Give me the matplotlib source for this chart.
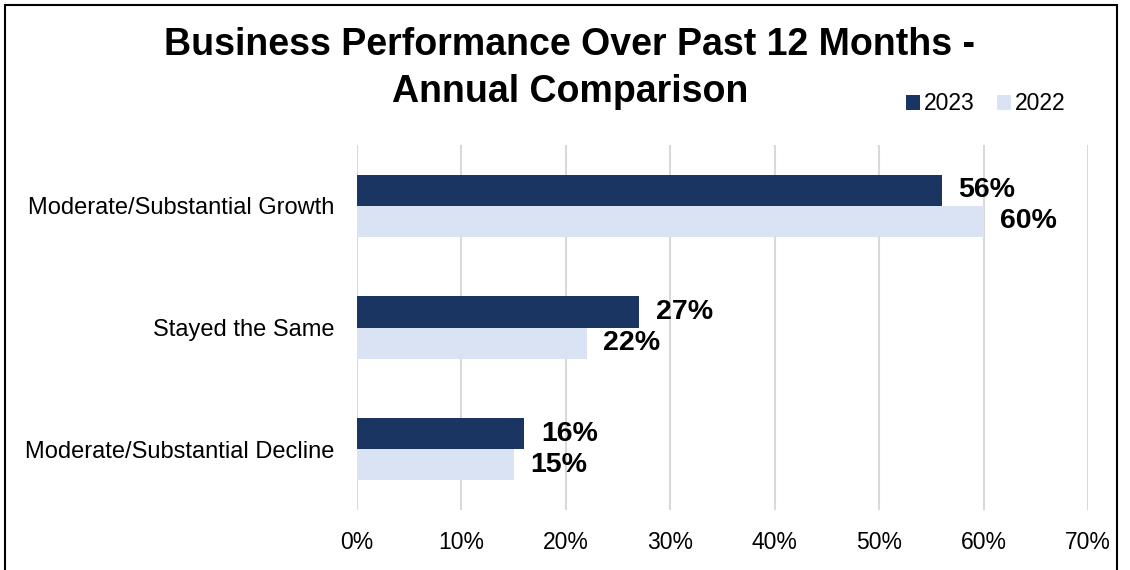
import matplotlib
matplotlib.use("Agg")
import matplotlib.pyplot as plt
from matplotlib.patches import Rectangle
import numpy as np

plt.rcParams['font.family'] = ['Liberation Sans', 'DejaVu Sans']

categories = ["Moderate/Substantial Growth", "Stayed the Same", "Moderate/Substantial Decline"]
values_2023 = [0.56, 0.27, 0.16]
values_2022 = [0.60, 0.22, 0.15]
series_names = ["2023", "2022"]
xticks = [0, 0.1, 0.2, 0.3, 0.4, 0.5, 0.6, 0.7]
title_lines = ["Business Performance Over Past 12 Months -", "Annual Comparison"]

c23 = "#1A3562"
c22 = "#DAE3F3"

fig = plt.figure(figsize=(11.3, 5.7), dpi=100)
ax = fig.add_axes([357/1130, 1-510/570, (1088-357)/1130, (510-145)/570])

y = np.arange(len(categories))
h = 0.255
b1 = ax.barh(y - h/2, values_2023, height=h, color=c23, label=series_names[0], zorder=3)
b2 = ax.barh(y + h/2, values_2022, height=h, color=c22, label=series_names[1], zorder=3)

for bars, vals in ((b1, values_2023), (b2, values_2022)):
    for bar, v in zip(bars, vals):
        ax.annotate(f"{v*100:.0f}%", (v, bar.get_y() + bar.get_height()/2),
                    xytext=(12, 0), textcoords="offset points", va="center", ha="left",
                    fontsize=20.5, fontweight="bold", color="black")

ax.set_xlim(0, 0.7)
ax.set_ylim(len(categories) - 0.5, -0.5)
ax.set_xticks(xticks)
ax.set_xticklabels([f"{t*100:.0f}%" for t in xticks], fontsize=16.5)
ax.set_yticks(y)
ax.set_yticklabels(categories, fontsize=17)
ax.tick_params(axis="both", length=0)
ax.tick_params(axis="x", pad=15)
ax.tick_params(axis="y", pad=16)
ax.grid(axis="x", color="#D9D9D9", linewidth=1.5, zorder=0)
for s in ax.spines.values():
    s.set_visible(False)

for line, ypix in zip(title_lines, (45, 92)):
    fig.text(570/1130, 1-ypix/570, line, ha="center", va="center", fontsize=27,
             fontweight="bold")

leg = fig.legend(handles=[b1, b2], labels=series_names, loc="center left",
                 bbox_to_anchor=(906/1130, 1-104/570), ncol=2, frameon=False,
                 fontsize=16.5, handlelength=0.6, handleheight=0.6, handletextpad=0.2,
                 columnspacing=0.95, borderaxespad=0, borderpad=0)

fig.patches.append(Rectangle((5/1130, -0.05), (1117-5)/1130, 1.05 - 5/570,
                             transform=fig.transFigure, fill=False,
                             edgecolor="black", linewidth=1.5))

fig.savefig("out.png", dpi=100)
